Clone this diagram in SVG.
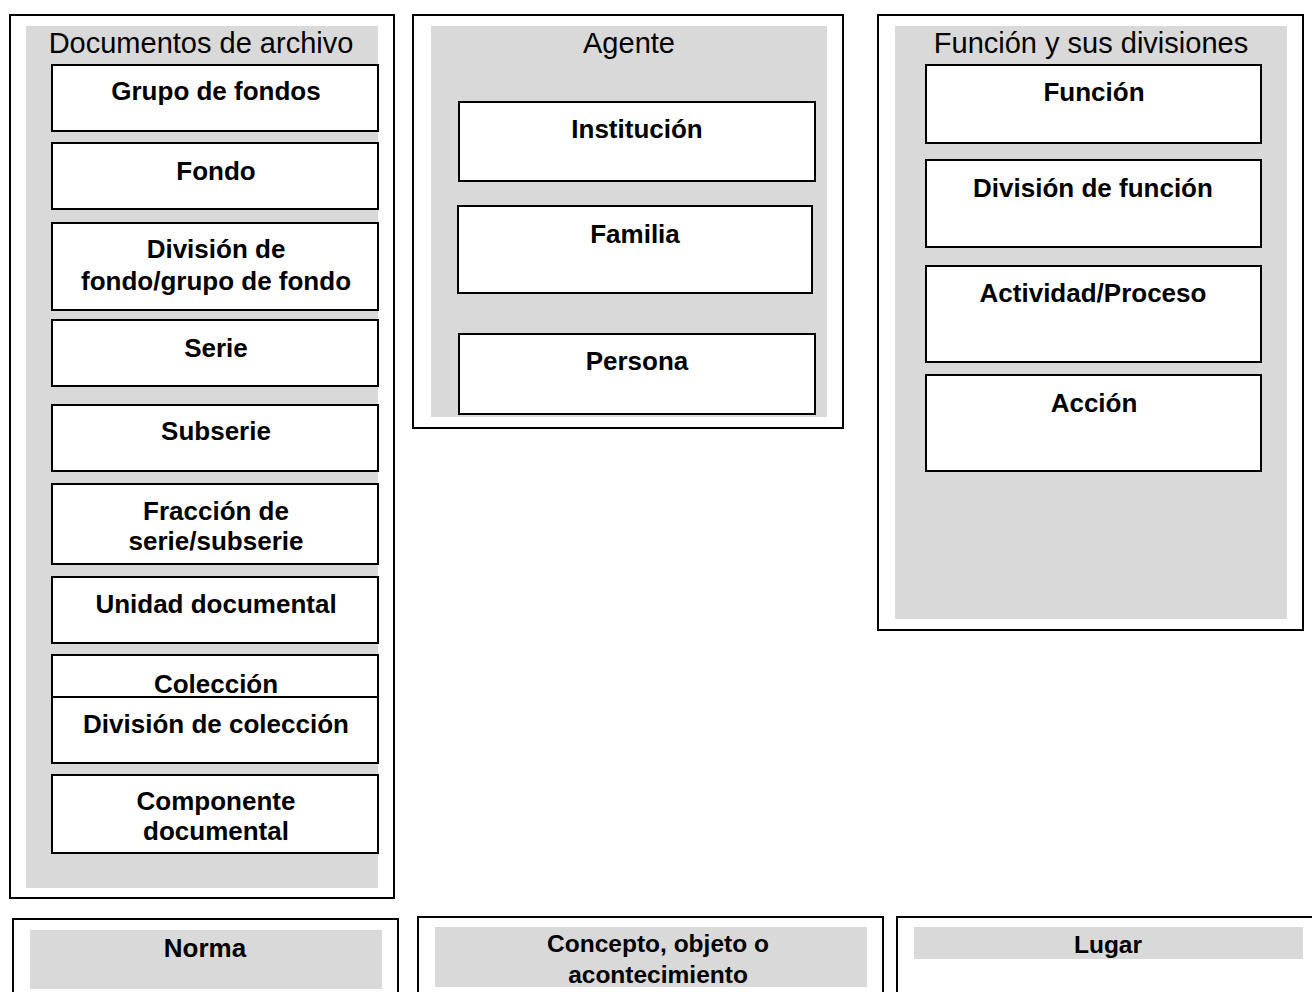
<svg xmlns="http://www.w3.org/2000/svg" width="1312" height="992" viewBox="0 0 1312 992">
<style>
.outer{fill:#fff;stroke:#000;stroke-width:2}
.gray{fill:#d9d9d9;stroke:none}
.box{fill:#fff;stroke:#000;stroke-width:2}
.title{font-family:"Liberation Sans",Arial,sans-serif;font-size:29px;fill:#000;text-anchor:middle}
.lbl{font-family:"Liberation Sans",Arial,sans-serif;font-size:26px;font-weight:bold;fill:#000;text-anchor:middle}
.lbl2{font-family:"Liberation Sans",Arial,sans-serif;font-size:24.5px;font-weight:bold;fill:#000;text-anchor:middle}
</style>
<rect width="1312" height="992" fill="#fff"/>

<g id="documentos">
<rect class="outer" x="10" y="15" width="384" height="883"/>
<rect class="gray" x="26" y="26" width="352" height="862"/>
<text class="title" x="201" y="53">Documentos de archivo</text>
</g>
<g id="grupo-fondos"><rect class="box" x="52" y="65" width="326" height="66"/><text class="lbl" x="216" y="100">Grupo de fondos</text></g>
<g id="fondo"><rect class="box" x="52" y="143" width="326" height="66"/><text class="lbl" x="216" y="180">Fondo</text></g>
<g id="division-fondo"><rect class="box" x="52" y="223" width="326" height="87"/><text class="lbl" x="216" y="258">División de</text><text class="lbl" x="216" y="290">fondo/grupo de fondo</text></g>
<g id="serie"><rect class="box" x="52" y="320" width="326" height="66"/><text class="lbl" x="216" y="357">Serie</text></g>
<g id="subserie"><rect class="box" x="52" y="405" width="326" height="66"/><text class="lbl" x="216" y="440">Subserie</text></g>
<g id="fraccion"><rect class="box" x="52" y="484" width="326" height="80"/><text class="lbl" x="216" y="520">Fracción de</text><text class="lbl" x="216" y="550">serie/subserie</text></g>
<g id="unidad"><rect class="box" x="52" y="577" width="326" height="66"/><text class="lbl" x="216" y="613">Unidad documental</text></g>
<g id="coleccion"><rect class="box" x="52" y="655" width="326" height="66"/><text class="lbl" x="216" y="693">Colección</text></g>
<g id="division-coleccion"><rect class="box" x="52" y="697" width="326" height="66"/><text class="lbl" x="216" y="733">División de colección</text></g>
<g id="componente"><rect class="box" x="52" y="775" width="326" height="78"/><text class="lbl" x="216" y="810">Componente</text><text class="lbl" x="216" y="840">documental</text></g>

<g id="agente">
<rect class="outer" x="413" y="15" width="430" height="413"/>
<rect class="gray" x="431" y="26" width="396" height="391"/>
<text class="title" x="629" y="53">Agente</text>
</g>
<g id="institucion"><rect class="box" x="459" y="102" width="356" height="79"/><text class="lbl" x="637" y="138">Institución</text></g>
<g id="familia"><rect class="box" x="458" y="206" width="354" height="87"/><text class="lbl" x="635" y="243">Familia</text></g>
<g id="persona"><rect class="box" x="459" y="334" width="356" height="80"/><text class="lbl" x="637" y="370">Persona</text></g>

<g id="funcion-divisiones">
<rect class="outer" x="878" y="15" width="425" height="615"/>
<rect class="gray" x="895" y="26" width="392" height="593"/>
<text class="title" x="1091" y="53">Función y sus divisiones</text>
</g>
<g id="funcion"><rect class="box" x="926" y="65" width="335" height="78"/><text class="lbl" x="1094" y="101">Función</text></g>
<g id="division-funcion"><rect class="box" x="926" y="160" width="335" height="87"/><text class="lbl" x="1093" y="197">División de función</text></g>
<g id="actividad"><rect class="box" x="926" y="266" width="335" height="96"/><text class="lbl" x="1093" y="302">Actividad/Proceso</text></g>
<g id="accion"><rect class="box" x="926" y="375" width="335" height="96"/><text class="lbl" x="1094" y="412">Acción</text></g>

<g id="norma">
<rect class="outer" x="13" y="919" width="385" height="90"/>
<rect class="gray" x="30" y="930" width="352" height="59"/>
<text class="lbl" x="205" y="957">Norma</text>
</g>
<g id="concepto">
<rect class="outer" x="418" y="917" width="465" height="90"/>
<rect class="gray" x="435" y="927" width="432" height="60"/>
<text class="lbl2" x="658" y="952">Concepto, objeto o</text>
<text class="lbl2" x="658" y="983">acontecimiento</text>
</g>
<g id="lugar">
<rect class="outer" x="897" y="917" width="430" height="90"/>
<rect class="gray" x="914" y="927" width="389" height="32"/>
<text class="lbl2" x="1108" y="953">Lugar</text>
</g>

<g id="connectors"></g>
</svg>
